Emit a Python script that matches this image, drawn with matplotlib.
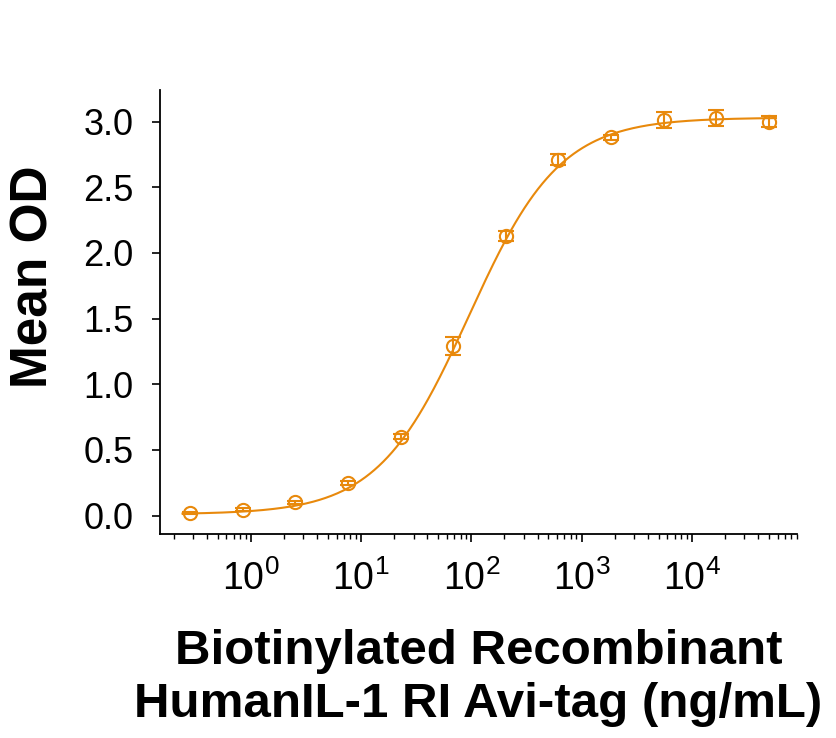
import numpy as np
import matplotlib
matplotlib.use("Agg")
import matplotlib.pyplot as plt
from matplotlib.ticker import LogLocator, NullFormatter

# concentrations (ng/mL), 3-fold dilution series
conc = [0.282, 0.847, 2.54, 7.62, 22.9, 68.6, 206, 617, 1852, 5556, 16667, 50000]
mean_od = [0.02, 0.045, 0.10, 0.25, 0.60, 1.29, 2.13, 2.71, 2.88, 3.01, 3.03, 3.00]
err = [0.01, 0.01, 0.015, 0.015, 0.02, 0.07, 0.04, 0.04, 0.02, 0.06, 0.06, 0.04]

# 4PL fit parameters
fit_bottom = 0.01
fit_top = 3.03
fit_ec50 = 95.0
fit_hill = 1.05
fit_range = (0.24, 58000)

orange = "#E8890C"

plt.rcParams["font.family"] = ["Liberation Sans", "DejaVu Sans"]
plt.rcParams["mathtext.fontset"] = "custom"
plt.rcParams["mathtext.rm"] = "Liberation Sans"
plt.rcParams["mathtext.it"] = "Liberation Sans"

fig = plt.figure(figsize=(8.36, 7.38), dpi=100)
ax = fig.add_axes([0.1914, 0.2764, 0.9533 - 0.1914, 0.878 - 0.2764])

xs = np.logspace(np.log10(fit_range[0]), np.log10(fit_range[1]), 400)
ys = fit_bottom + (fit_top - fit_bottom) / (1 + (fit_ec50 / xs) ** fit_hill)
ax.plot(xs, ys, color=orange, lw=1.5, zorder=2)

ax.errorbar(conc, mean_od, yerr=err, fmt="o", mfc="none", mec=orange, mew=1.5,
            ms=9.5, ecolor=orange, elinewidth=1.5, capsize=6, capthick=1.5, zorder=3)

ax.set_xscale("log")
ax.set_xlim(0.15, 90000)
ax.set_ylim(-0.14, 3.24)
ax.set_yticks([0.0, 0.5, 1.0, 1.5, 2.0, 2.5, 3.0])
ax.set_yticklabels(["0.0", "0.5", "1.0", "1.5", "2.0", "2.5", "3.0"])
ax.xaxis.set_major_locator(LogLocator(base=10, numticks=20))
ax.xaxis.set_minor_locator(LogLocator(base=10, subs=np.arange(2, 10), numticks=20))
ax.xaxis.set_minor_formatter(NullFormatter())

for s in ["top", "right"]:
    ax.spines[s].set_visible(False)
for s in ["left", "bottom"]:
    ax.spines[s].set_linewidth(1.3)

ax.tick_params(axis="y", labelsize=26, length=6, width=1.2, pad=13)
ax.tick_params(axis="x", which="major", labelsize=27, length=6, width=1.2, pad=13)
ax.tick_params(axis="x", which="minor", length=3.5, width=1.0)

ax.set_ylabel("Mean OD", fontsize=37, fontweight="bold")
ax.yaxis.set_label_coords(-0.16, 0.579)
ax.set_xlabel("Biotinylated Recombinant\nHumanIL-1 RI Avi-tag (ng/mL)", fontsize=35.5,
              fontweight="bold", labelpad=22, linespacing=1.25)

fig.savefig("out.png", dpi=100)
